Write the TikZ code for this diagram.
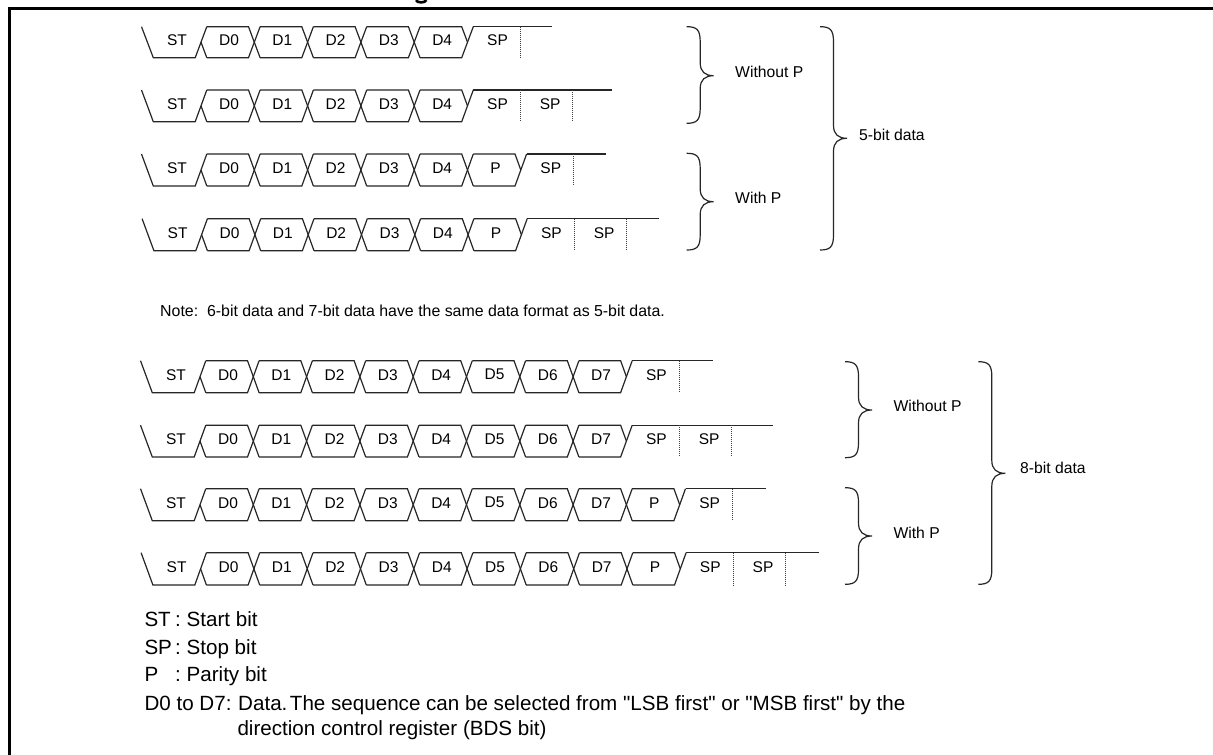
\documentclass[tikz,border=0pt]{standalone}
\usepackage{fontspec}
\setmainfont{Liberation Sans}[Ligatures=TeXOff]
\tikzset{
  signal/.style={draw=black!85,line width=1.2pt},
  stopmark/.style={draw=black!75,line width=1pt,dash pattern=on 1pt off 1pt},
  bitlabel/.style={inner sep=0pt,font=\fontsize{15.5}{18}\selectfont},
  sidelabel/.style={inner sep=0pt,anchor=west,font=\fontsize{15.7}{18}\selectfont},
  notelabel/.style={inner sep=0pt,anchor=base west,font=\fontsize{15.9}{18}\selectfont},
  keylabel/.style={inner sep=0pt,anchor=base west,font=\fontsize{20.6}{24}\selectfont},
}
% row name, first crossing, top, bottom, cell labels, cell count, stop bits, line end
\newcommand{\framerow}[8]{
  \pgfmathsetmacro{\ymid}{(#3+#4)/2}
  \pgfmathsetmacro{\xlast}{#2+53.3*#6}
  \path[signal] (#2-59.5,#3) -- (#2-47.7,#4) -- (#2-5.8,#4) -- (#2+5.8,#3);
  \path[signal] (#2,\ymid) -- (#2+5.8,#4);
  \node[bitlabel] (#1-st) at (#2-24,\ymid-2) {ST};
  \foreach \bitname [count=\k from 0] in {#5} {
    \pgfmathsetmacro{\xa}{#2+53.3*\k}
    \pgfmathsetmacro{\xb}{\xa+53.3}
    \pgfmathparse{int(\k+1==#6)}
    \ifnum\pgfmathresult=1
      \path[signal] (\xa+5.8,#3) -- (\xb-5.8,#3) -- (\xb,\ymid);
    \else
      \path[signal] (\xa+5.8,#3) -- (\xb-5.8,#3) -- (\xb+5.8,#4);
    \fi
    \path[signal] (\xa+5.8,#4) -- (\xb-5.8,#4) -- (\xb+5.8,#3);
    \node[bitlabel] (#1-bit\k) at (\xa+28,\ymid-2) {\bitname};
  }
  \path[signal] (\xlast+5.8,#3) -- (#8,#3);
  \foreach \s in {1,...,#7} {
    \path[stopmark] (\xlast+52.7*\s,#3) -- (\xlast+52.7*\s,#4);
    \node[bitlabel] (#1-sp\s) at (\xlast+52.7*\s-22.7,\ymid-2) {SP};
  }
}
% left end, top, tip, bottom, half width
\newcommand{\sidebrace}[5]{
  \draw[line width=1.2pt,black!85] (#1,#2) .. controls (#1+0.75*#5,#2) and (#1+#5,#2+3) .. (#1+#5,#2+15)
    -- (#1+#5,#3-13) .. controls (#1+#5,#3-4) and (#1+1.35*#5,#3) .. (#1+2*#5,#3)
    .. controls (#1+1.35*#5,#3) and (#1+#5,#3+4) .. (#1+#5,#3+13)
    -- (#1+#5,#4-15) .. controls (#1+#5,#4-3) and (#1+0.75*#5,#4) .. (#1,#4);
}
\begin{document}
\begin{tikzpicture}[x=1pt,y=-1pt]
\useasboundingbox (0,0) rectangle (1213,755);
\fill[white] (0,0) rectangle (1213,755);
% heading stroke and frame:
\draw[line width=2.6pt,black] (416,0) .. controls (417,3.2) and (425,3.2) .. (426.5,0);
\draw[line width=3pt,black] (9.5,755) -- (9.5,8.5) -- (1213,8.5);
% rows at 5-bit:
\framerow{fivea}{201}{26.7}{57.7}{D0,D1,D2,D3,D4}{5}{1}{552}
\framerow{fiveb}{201}{90}{121.7}{D0,D1,D2,D3,D4}{5}{2}{612}
\framerow{fivec}{201}{154}{186}{D0,D1,D2,D3,D4,P}{6}{1}{606}
\framerow{fived}{201.6}{218.7}{250.7}{D0,D1,D2,D3,D4,P}{6}{2}{659}
% rows at 8-bit:
\framerow{eighta}{200}{360.7}{392.7}{D0,D1,D2,D3,D4,D5,D6,D7}{8}{1}{712.7}
\framerow{eightb}{200}{425.2}{457}{D0,D1,D2,D3,D4,D5,D6,D7}{8}{2}{773.3}
\framerow{eightc}{200}{488.7}{520.7}{D0,D1,D2,D3,D4,D5,D6,D7,P}{9}{1}{766}
\framerow{eightd}{200.6}{552.7}{585}{D0,D1,D2,D3,D4,D5,D6,D7,P}{9}{2}{819.3}
% braces:
\sidebrace{686.7}{26.7}{75.7}{123.3}{13.5}
\sidebrace{686.7}{153.3}{201.7}{250}{13.5}
\sidebrace{820}{26.7}{138.3}{250}{13.5}
\sidebrace{845}{361.7}{410}{457.7}{13.5}
\sidebrace{845}{487.7}{536}{584.3}{13.5}
\sidebrace{978.3}{361.7}{473.3}{584.3}{13.5}
\node[sidelabel] (nopfive) at (735,72.3) {Without P};
\node[sidelabel] (withpfive) at (735,198) {With P};
\node[sidelabel] (fivebit) at (859,135) {5-bit data};
\node[sidelabel] (nopeight) at (893.3,406) {Without P};
\node[sidelabel] (withpeight) at (893.3,532.7) {With P};
\node[sidelabel] (eightbit) at (1020,468) {8-bit data};
% note and key:
\node[notelabel] (note) at (160,316) {Note:\ \ 6-bit data and 7-bit data have the same data format as 5-bit data.};
\node[keylabel] (keyst) at (144.3,626) {ST};
\node[keylabel] (keystb) at (175,626) {:\ Start bit};
\node[keylabel] (keysp) at (144.3,654) {SP};
\node[keylabel] (keyspb) at (175,654) {:\ Stop bit};
\node[keylabel] (keyp) at (144.3,681.7) {P};
\node[keylabel] (keypb) at (175,681.7) {:\ Parity bit};
\node[keylabel] (keyd) at (144.3,710) {D0 to D7:};
\node[keylabel] (keydb) at (238,710) {Data.\kern2.5pt The sequence can be selected from "LSB first" or "MSB first" by the};
\node[keylabel] (keydc) at (237.3,735) {direction control register (BDS bit)};
\end{tikzpicture}
\end{document}
